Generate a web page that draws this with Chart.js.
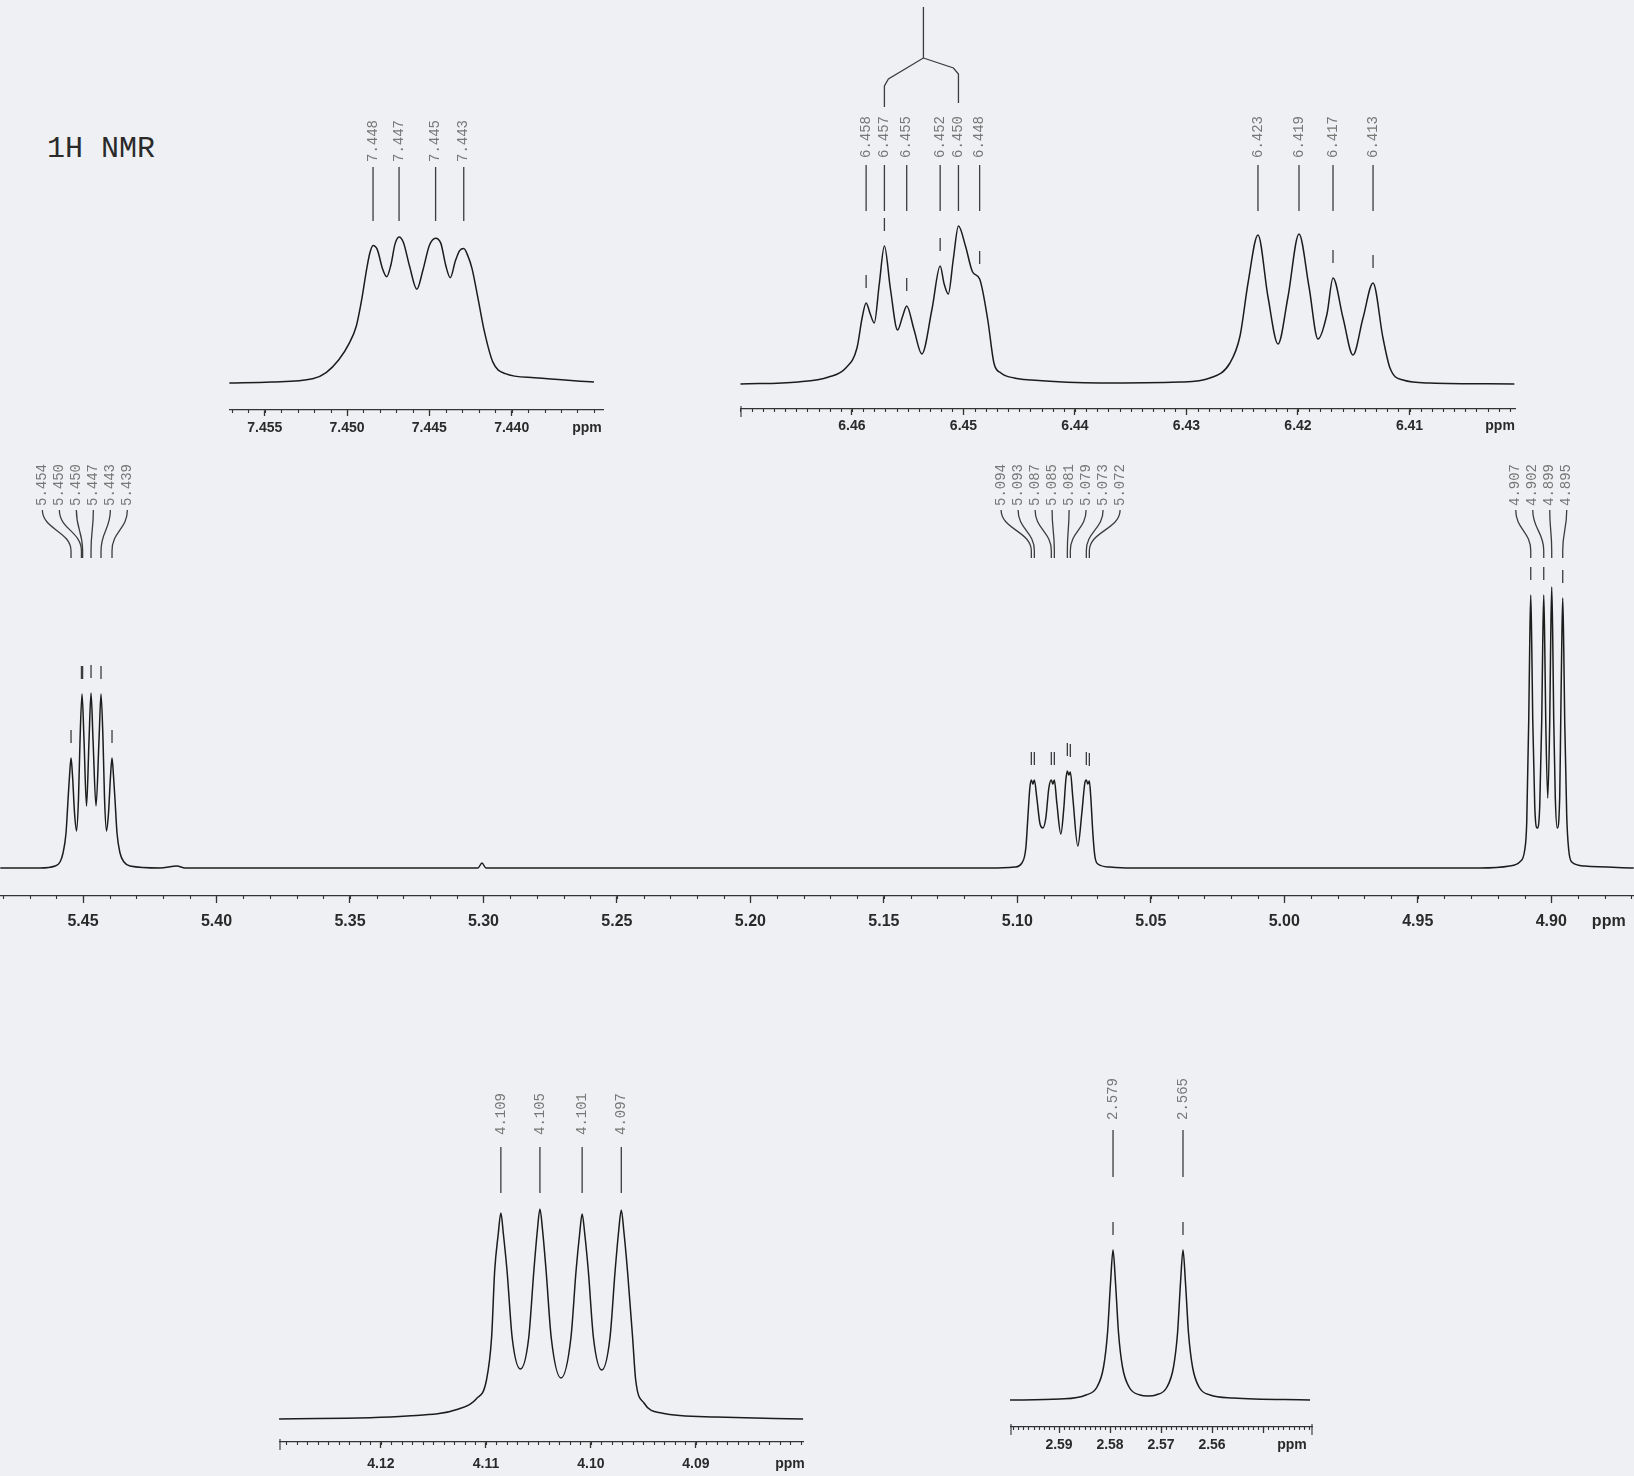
<!DOCTYPE html>
<html>
<head>
<meta charset="utf-8">
<script src="https://cdn.jsdelivr.net/npm/chart.js@4.4.1/dist/chart.umd.min.js"></script>
<style>
  html, body { margin: 0; padding: 0; }
  body { width: 1634px; height: 1476px; background: #eef0f3; position: relative; overflow: hidden; }
  canvas { position: absolute; }
  #title { position: absolute; left: 47px; top: 134px; font: 30px/30px 'Liberation Mono', 'DejaVu Sans Mono', monospace; color: #2a2a2a; }
</style>
</head>
<body>
<div id="title">1H NMR</div>
<script>
// ---- 7.44 ppm multiplet ----
const p1Ppm = [7.45715, 7.45462, 7.45209, 7.45127, 7.45051, 7.44987, 7.44943, 7.44911, 7.44880, 7.44861,
  7.44842, 7.44816, 7.44785, 7.44759, 7.44734, 7.44709, 7.44684, 7.44658, 7.44620, 7.44576,
  7.44538, 7.44500, 7.44462, 7.44430, 7.44399, 7.44373, 7.44342, 7.44316, 7.44291, 7.44266,
  7.44241, 7.44203, 7.44165, 7.44114, 7.44038, 7.43861, 7.43500];
const p1Int = [0, 1, 4, 10, 22, 38, 55, 80, 110, 125,
  132, 128, 110, 102, 113, 133, 140, 135, 112, 90,
  109, 132, 139, 134, 112, 101, 117, 127, 129, 122,
  110, 80, 49, 20, 9, 5, 1];
const p1PeakPpm = [7.44842, 7.44684, 7.44462, 7.44291];
const p1PeakText = ['7.448', '7.447', '7.445', '7.443'];
const p1Ticks = [7.455, 7.450, 7.445, 7.440];
const p1TickText = ['7.455', '7.450', '7.445', '7.440'];

// ---- 6.41 - 6.46 ppm ----
const p2Ppm = [6.4700, 6.46482, 6.46209, 6.46055, 6.45955, 6.45909, 6.45873, 6.45836, 6.45800, 6.45755,
  6.45709, 6.45655, 6.45591, 6.45545, 6.45509, 6.45445, 6.45373, 6.45282, 6.45209, 6.45173,
  6.45136, 6.45091, 6.45045, 6.44982, 6.44918, 6.44855, 6.44782, 6.44727, 6.44664, 6.44545,
  6.44391, 6.43776, 6.43058, 6.42789, 6.42610, 6.42520, 6.42448, 6.42359, 6.42269, 6.42179,
  6.42090, 6.41991, 6.41901, 6.41821, 6.41740, 6.41686, 6.41596, 6.41507, 6.41417, 6.41327,
  6.41238, 6.41175, 6.41058, 6.40816, 6.4006];
const p2Int = [0, 2, 7, 16, 36, 66, 81, 70, 61, 100,
  138, 95, 54, 68, 78, 55, 30, 75, 118, 100,
  90, 125, 158, 138, 112, 105, 64, 21, 11, 6,
  4, 1, 2, 6, 21, 48, 101, 149, 87, 40,
  87, 150, 97, 45, 70, 106, 66, 29, 66, 101,
  46, 16, 4, 1, 0];
const p2PeakPpm = [6.45873, 6.45709, 6.45509, 6.45209, 6.45045, 6.44855, 6.42359, 6.41991, 6.41686, 6.41327];
const p2PeakText = ['6.458', '6.457', '6.455', '6.452', '6.450', '6.448', '6.423', '6.419', '6.417', '6.413'];
const p2Ticks = [6.46, 6.45, 6.44, 6.43, 6.42, 6.41];
const p2TickText = ['6.46', '6.45', '6.44', '6.43', '6.42', '6.41'];

// ---- 4.90 - 5.45 ppm (wide) ----
const p3Ppm = [5.4810, 5.46610, 5.46049, 5.45861, 5.45749, 5.45637, 5.45562, 5.45506, 5.45449, 5.45393,
  5.45318, 5.45243, 5.45169, 5.45112, 5.45037, 5.44963, 5.44869, 5.44775, 5.44700, 5.44625,
  5.44513, 5.44401, 5.44326, 5.44251, 5.44195, 5.44120, 5.44045, 5.43970, 5.43914, 5.43858,
  5.43801, 5.43727, 5.43614, 5.43464, 5.43240, 5.42116, 5.41479, 5.41180, 5.30206, 5.30056,
  5.29907,
  5.11030, 5.10094, 5.09831, 5.09682, 5.09607, 5.09532, 5.09476, 5.09419, 5.09363, 5.09270,
  5.09157, 5.09045, 5.08933, 5.08820, 5.08727, 5.08670, 5.08614, 5.08521, 5.08371, 5.08259,
  5.08184, 5.08127, 5.08071, 5.08015, 5.07921, 5.07734, 5.07584, 5.07472, 5.07416, 5.07360,
  5.07303, 5.07247, 5.07172, 5.07097, 5.06985, 5.06536, 5.05787,
  4.92678, 4.91555, 4.91180, 4.90993, 4.90918, 4.90843, 4.90806, 4.90768, 4.90731, 4.90693,
  4.90618, 4.90524, 4.90431, 4.90356, 4.90319, 4.90281, 4.90244, 4.90206, 4.90131, 4.90056,
  4.90019, 4.89982, 4.89944, 4.89907, 4.89850, 4.89775, 4.89682, 4.89645, 4.89607, 4.89570,
  4.89532, 4.89495, 4.89420, 4.89345, 4.89233, 4.88746, 4.8691];
const p3Int = [0, 0, 2, 6, 15, 35, 68, 92, 110, 92,
  55, 37, 70, 128, 174, 128, 62, 128, 175, 128,
  62, 128, 174, 128, 70, 37, 55, 92, 110, 92,
  68, 35, 15, 6, 2, 0, 2, 0, 0, 5,
  0,
  0, 1, 5, 20, 50, 80, 88, 84, 88, 70,
  45, 40, 50, 80, 88, 84, 88, 65, 34, 60,
  88, 97, 93, 96, 70, 22, 55, 85, 88, 84,
  87, 70, 35, 12, 4, 1, 0,
  0, 2, 6, 18, 46, 148, 224, 273, 224, 148,
  62, 40, 62, 148, 224, 273, 224, 148, 70, 148,
  230, 281, 230, 148, 72, 40, 72, 146, 221, 270,
  221, 146, 52, 18, 6, 2, 0];
const h545Ppm = [5.45449, 5.45060, 5.45015, 5.44700, 5.44326, 5.43914];
const h545Text = ['5.454', '5.450', '5.450', '5.447', '5.443', '5.439'];
const h508Ppm = [5.09476, 5.09363, 5.08727, 5.08614, 5.08127, 5.08015, 5.07416, 5.07303];
const h508Text = ['5.094', '5.093', '5.087', '5.085', '5.081', '5.079', '5.073', '5.072'];
const h490Ppm = [4.90768, 4.90281, 4.89982, 4.89570];
const h490Text = ['4.907', '4.902', '4.899', '4.895'];
const p3Ticks = [5.45, 5.40, 5.35, 5.30, 5.25, 5.20, 5.15, 5.10, 5.05, 5.00, 4.95, 4.90];
const p3TickText = ['5.45', '5.40', '5.35', '5.30', '5.25', '5.20', '5.15', '5.10', '5.05', '5.00', '4.95', '4.90'];

// ---- 4.09 - 4.12 ppm ----
const p4Ppm = [4.1297, 4.11750, 4.11260, 4.11093, 4.10995, 4.10946, 4.10917, 4.10883, 4.10858, 4.10834,
  4.10799, 4.10750, 4.10672, 4.10593, 4.10544, 4.10510, 4.10486, 4.10461, 4.10427, 4.10378,
  4.10285, 4.10191, 4.10142, 4.10108, 4.10084, 4.10059, 4.10025, 4.09976, 4.09897, 4.09819,
  4.09770, 4.09736, 4.09711, 4.09687, 4.09652, 4.09603, 4.09574, 4.09495, 4.09329, 4.08809,
  4.0798];
const p4Int = [0, 3, 10, 20, 39, 82, 148, 185, 206, 185,
  148, 81, 50, 81, 148, 189, 210, 189, 148, 81,
  41, 81, 148, 185, 205, 185, 148, 81, 49, 81,
  148, 188, 209, 188, 148, 81, 39, 16, 6, 2,
  0];
const p4PeakPpm = [4.10858, 4.10486, 4.10084, 4.09711];
const p4PeakText = ['4.109', '4.105', '4.101', '4.097'];
const p4Ticks = [4.12, 4.11, 4.10, 4.09];
const p4TickText = ['4.12', '4.11', '4.10', '4.09'];

// ---- 2.56 - 2.59 ppm ----
const p5Ppm = [2.5996, 2.58980, 2.58471, 2.58255, 2.58127, 2.58049, 2.57990, 2.57941, 2.57892, 2.57833,
  2.57755, 2.57627, 2.57412, 2.57255, 2.57098, 2.56882, 2.56755, 2.56676, 2.56618, 2.56569,
  2.56520, 2.56461, 2.56382, 2.56255, 2.56039, 2.55588, 2.54078];
const p5Int = [0, 1, 5, 13, 33, 67, 117, 150, 117, 67,
  33, 13, 5, 4, 5, 13, 33, 67, 117, 150,
  117, 67, 33, 13, 5, 2, 0];
const p5PeakPpm = [2.57941, 2.56569];
const p5PeakText = ['2.579', '2.565'];
const p5Ticks = [2.59, 2.58, 2.57, 2.56, 2.55];
const p5TickText = ['2.59', '2.58', '2.57', '2.56', ''];

const sansBold = (size, fam) => ({ family: fam || "'Liberation Sans', Arial, sans-serif", size: size, weight: 'bold' });
const labelFont = "14px 'Liberation Mono', 'DejaVu Sans Mono', monospace";

// panel geometry, page pixels
const panels = [
  { left: 229, width: 375, top: 100, axisY: 410, baseY: 383, unitPx: 1.042, axisH: 36,
    min: 7.43439, max: 7.45717, ppm: p1Ppm, int: p1Int, ticks: p1Ticks, tickText: p1TickText, ppmAt: 7.43542,
    minor: 0.001, ends: [], font: sansBold(14), tickLen: 6, tickPad: 4,
    labels: { textBottom: 162, lineTop: 167, lineBottom: 221,
      groups: [{ ppm: p1PeakPpm, text: p1PeakText }] } },
  { left: 740, width: 776, top: 0, axisY: 409, baseY: 384, unitPx: 1, axisH: 36,
    min: 6.40045, max: 6.47004, ppm: p2Ppm, int: p2Int, ticks: p2Ticks, tickText: p2TickText, ppmAt: 6.40188,
    minor: 0.001, ends: ['left'], font: sansBold(14), tickLen: 6, tickPad: 3,
    labels: { textBottom: 158, lineTop: 165, lineBottom: 211,
      groups: [{ ppm: p2PeakPpm, text: p2PeakText }] },
    tree: { a: 6.45709, b: 6.45045 } },
  { left: 0, width: 1634, top: 448, axisY: 896, baseY: 868, unitPx: 1, axisH: 44,
    min: 4.8690, max: 5.4811, ppm: p3Ppm, int: p3Int, ticks: p3Ticks, tickText: p3TickText, ppmAt: 4.87846,
    minor: 0.01, ends: [], font: sansBold(16, "'Liberation Sans Narrow', 'Liberation Sans', Arial, sans-serif"), tickLen: 7, tickPad: 9,
    labels: { textBottom: 506, lineTop: 510, lineBottom: 558, spacing: 17,
      groups: [{ ppm: h545Ppm, text: h545Text, fan: true, shift: -5 },
               { ppm: h508Ppm, text: h508Text, fan: true, shift: 0 },
               { ppm: h490Ppm, text: h490Text, fan: true, shift: -6 }] } },
  { left: 279, width: 525, top: 1060, axisY: 1442, baseY: 1419, unitPx: 1, axisH: 34,
    min: 4.07971, max: 4.12971, ppm: p4Ppm, int: p4Int, ticks: p4Ticks, tickText: p4TickText, ppmAt: 4.08105,
    minor: 0.001, ends: ['left'], font: sansBold(14), tickLen: 6, tickPad: 8,
    labels: { textBottom: 1135, lineTop: 1147, lineBottom: 1193,
      groups: [{ ppm: p4PeakPpm, text: p4PeakText }] } },
  { left: 1010, width: 303, top: 1050, axisY: 1427, baseY: 1400, unitPx: 1, axisH: 36,
    min: 2.54020, max: 2.59961, ppm: p5Ppm, int: p5Int, ticks: p5Ticks, tickText: p5TickText, ppmAt: 2.54431,
    minor: 0.001, ends: ['left', 'right'], font: sansBold(14), tickLen: 6, tickPad: 4,
    labels: { textBottom: 1120, lineTop: 1130, lineBottom: 1177,
      groups: [{ ppm: p5PeakPpm, text: p5PeakText }] } }
];

function nearestInt(pts, v) {
  let best = pts[0], d = Infinity;
  pts.forEach(p => { const e = Math.abs(p.x - v); if (e < d) { d = e; best = p; } });
  return best.y;
}

// minor ticks, peak labels, coupling tree
const nmrDecor = {
  id: 'nmrDecor',
  afterDatasetsDraw(chart, args, o) {
    const { ctx, chartArea } = chart;
    const xs = chart.scales.x, ys = chart.scales.y;
    const pts = chart.data.datasets[0].data;
    const ay = chartArea.bottom;
    ctx.save();
    ctx.strokeStyle = '#333';
    ctx.lineWidth = 1.1;
    ctx.beginPath();
    for (let k = Math.ceil(xs.min / o.minor - 1e-6); k * o.minor <= xs.max + 1e-9; k++) {
      const px = Math.round(xs.getPixelForValue(k * o.minor)) + 0.5;
      ctx.moveTo(px, ay); ctx.lineTo(px, ay + 3);
    }
    o.ends.forEach(e => {
      const px = e === 'left' ? chartArea.left + 1 : chartArea.right - 1;
      ctx.moveTo(px, ay - 3); ctx.lineTo(px, ay + 8);
    });
    ctx.stroke();

    const L = o.labels;
    const tb = L.textBottom - o.top, l0 = L.lineTop - o.top, l1 = L.lineBottom - o.top;
    ctx.lineWidth = 1.3;
    ctx.strokeStyle = '#3c3c3c';
    L.groups.forEach(g => {
      const px = g.ppm.map(v => xs.getPixelForValue(v));
      const mid = px.reduce((a, b) => a + b, 0) / px.length + (g.shift || 0);
      px.forEach((p, i) => {
        const tx = g.fan ? mid + (i - (px.length - 1) / 2) * L.spacing : p;
        ctx.save();
        ctx.translate(tx, tb);
        ctx.rotate(-Math.PI / 2);
        ctx.font = labelFont;
        ctx.fillStyle = '#777';
        ctx.textAlign = 'left';
        ctx.textBaseline = 'middle';
        ctx.fillText(g.text[i], 0, 0);
        ctx.restore();
        ctx.beginPath();
        if (g.fan) {
          const h = l1 - l0;
          ctx.moveTo(tx, l0);
          ctx.bezierCurveTo(tx, l0 + h * 0.4, p, l0 + h * 0.45, p, l0 + h * 0.85);
          ctx.lineTo(p, l1);
        } else {
          ctx.moveTo(p, l0); ctx.lineTo(p, l1);
        }
        ctx.stroke();
        const top = ys.getPixelForValue(nearestInt(pts, g.ppm[i]));
        if (top - 28 > l1 + 4) {
          ctx.beginPath(); ctx.moveTo(p, top - 28); ctx.lineTo(p, top - 15); ctx.stroke();
        }
      });
    });

    if (o.tree) {
      const xa = xs.getPixelForValue(o.tree.a), xb = xs.getPixelForValue(o.tree.b);
      const xm = (xa + xb) / 2 + 2;
      ctx.beginPath();
      ctx.moveTo(xm, 7 - o.top); ctx.lineTo(xm, 58 - o.top);
      ctx.lineTo(xa + 4, 79 - o.top); ctx.lineTo(xa, 86 - o.top); ctx.lineTo(xa, 107 - o.top);
      ctx.moveTo(xm, 58 - o.top);
      ctx.lineTo(xb - 5, 68 - o.top); ctx.lineTo(xb, 74 - o.top); ctx.lineTo(xb, 103 - o.top);
      ctx.stroke();
    }
    ctx.restore();
  }
};

panels.forEach(p => {
  const cv = document.createElement('canvas');
  const h = p.axisY - p.top + p.axisH;
  cv.width = p.width; cv.height = h;
  cv.style.left = p.left + 'px'; cv.style.top = p.top + 'px';
  cv.style.width = p.width + 'px'; cv.style.height = h + 'px';
  document.body.appendChild(cv);

  const yMin = -(p.axisY - p.baseY) / p.unitPx;
  const yMax = yMin + (p.axisY - p.top) / p.unitPx;
  const isPpm = v => Math.abs(v - p.ppmAt) < 1e-9;
  const tickLabel = v => {
    if (isPpm(v)) return 'ppm';
    const i = p.ticks.findIndex(t => Math.abs(t - v) < 1e-9);
    return i >= 0 ? p.tickText[i] : '';
  };

  new Chart(cv, {
    type: 'line',
    data: {
      datasets: [{
        data: p.ppm.map((x, i) => ({ x: x, y: p.int[i] })),
        borderColor: '#1c1c1c',
        borderWidth: 1.5,
        pointRadius: 0,
        fill: false,
        cubicInterpolationMode: 'monotone'
      }]
    },
    options: {
      responsive: false,
      animation: false,
      events: [],
      layout: { padding: 0 },
      plugins: {
        legend: { display: false },
        tooltip: { enabled: false },
        nmrDecor: { minor: p.minor, ends: p.ends, labels: p.labels, tree: p.tree, top: p.top }
      },
      scales: {
        x: {
          type: 'linear',
          reverse: true,
          min: p.min,
          max: p.max,
          afterBuildTicks: ax => {
            ax.ticks = p.ticks.concat([p.ppmAt]).sort((a, b) => a - b).map(v => ({ value: v }));
          },
          afterFit: ax => { ax.height = p.axisH; },
          ticks: {
            autoSkip: false,
            maxRotation: 0,
            padding: p.tickPad,
            color: '#2a2a2a',
            font: p.font,
            callback: v => tickLabel(v)
          },
          grid: {
            drawOnChartArea: false,
            tickLength: p.tickLen,
            tickWidth: 1.3,
            tickColor: c => (c.tick && isPpm(c.tick.value)) ? 'rgba(0,0,0,0)' : '#333'
          },
          border: { color: '#333', width: 1.3 }
        },
        y: { display: false, min: yMin, max: yMax }
      }
    },
    plugins: [nmrDecor]
  });
});
</script>
</body>
</html>
